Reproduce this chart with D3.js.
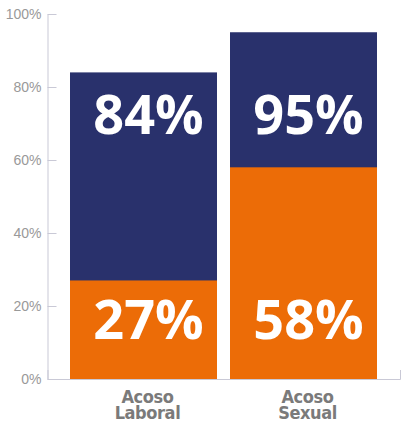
<!DOCTYPE html>
<html lang="es">
<head>
    <meta charset="UTF-8">
    <title>Acoso</title>
    <script src="https://d3js.org/d3.v7.min.js"></script>
    <style>
        body { margin: 0; background: #fff; }
        svg { display: block; }
        .y-axis text { font-family: "Liberation Sans", Arial, sans-serif; font-size: 14px; fill: #999; }
        .y-axis line, .y-axis path, .x-axis path { stroke: #c9c9d6; }
        .value { font-family: "Open Sans", sans-serif; font-weight: 700; font-size: 54px; fill: #fff; }
        .cat { font-family: "Liberation Sans Narrow", "DejaVu Sans Condensed", sans-serif; font-weight: 700; font-size: 18px; fill: #7a7a7a; letter-spacing: -0.4px; }
    </style>
</head>
<body>
    <svg width="401" height="421"></svg>
    <script>
        // Data
        const categories = [["Acoso", "Laboral"], ["Acoso", "Sexual"]];
        const totals = [84, 95];     // navy bars
        const partial = [27, 58];    // orange bars
        const yTicks = [0, 20, 40, 60, 80, 100];
        const labelLevels = [67, 11]; // where the numbers sit (in %)

        const svg = d3.select("svg");
        const margin = { top: 14, right: 1, bottom: 42, left: 47.5 };
        const width = 401, height = 421;

        const y = d3.scaleLinear().domain([0, 100]).range([height - margin.bottom, margin.top]);
        const x = d3.scaleBand()
            .domain(d3.range(categories.length))
            .range([70, 377])
            .paddingInner(0.0813)
            .paddingOuter(0);

        // y axis, ticks pointing inward
        svg.append("g")
            .attr("class", "y-axis")
            .attr("transform", `translate(${margin.left},0)`)
            .call(d3.axisLeft(y).tickValues(yTicks).tickFormat(d => d + "%").tickSizeInner(-9).tickSizeOuter(0).tickPadding(6))
            .call(g => g.selectAll("text").attr("dy", "0.35em"));

        // navy (total) bars
        svg.selectAll(".total")
            .data(totals)
            .enter()
            .append("rect")
            .attr("x", (d, i) => x(i))
            .attr("width", x.bandwidth())
            .attr("y", d => y(d))
            .attr("height", d => y(0) - y(d))
            .attr("fill", "#29316c");

        // orange bars
        svg.selectAll(".part")
            .data(partial)
            .enter()
            .append("rect")
            .attr("x", (d, i) => x(i))
            .attr("width", x.bandwidth())
            .attr("y", d => y(d))
            .attr("height", d => y(0) - y(d))
            .attr("fill", "#ec6c07");

        // baseline with end ticks
        svg.append("g")
            .attr("class", "x-axis")
            .attr("transform", `translate(0,${y(0)})`)
            .call(d3.axisBottom(d3.scaleLinear().range([margin.left, width - margin.right])).ticks(0).tickSizeOuter(-9))
            .call(g => g.selectAll(".tick").remove());

        // value labels
        [totals, partial].forEach((vals, k) => {
            svg.selectAll(".v" + k)
                .data(vals)
                .enter()
                .append("text")
                .attr("class", "value")
                .attr("x", (d, i) => x(i) + x.bandwidth() / 2 + 5)
                .attr("y", y(labelLevels[k]))
                .attr("text-anchor", "middle")
                .text(d => d + "%");
        });

        // category labels
        const cat = svg.selectAll(".cat")
            .data(categories)
            .enter()
            .append("text")
            .attr("class", "cat")
            .attr("text-anchor", "middle")
            .attr("y", y(0) + 23.5);
        cat.selectAll("tspan")
            .data((d, i) => d.map(w => ({ w, i })))
            .enter()
            .append("tspan")
            .attr("x", d => x(d.i) + x.bandwidth() / 2 + 4)
            .attr("dy", (d, j) => j ? 16 : 0)
            .text(d => d.w);
    </script>
</body>
</html>
